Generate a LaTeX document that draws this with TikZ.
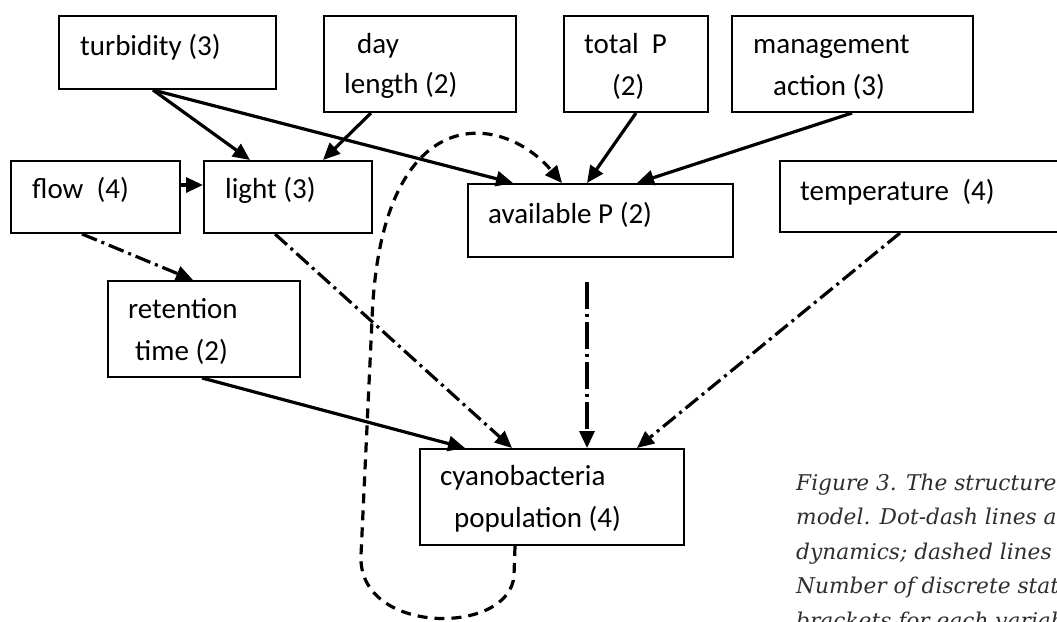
\documentclass[tikz,border=0pt]{standalone}
\usepackage{fontspec}
\setmainfont{Carlito}
\newfontfamily\capfont{DejaVu Serif}
\usetikzlibrary{arrows.meta}
\begin{document}
\begin{tikzpicture}[x=1pt,y=-1pt,
  box/.style={draw, line width=2pt, rectangle, inner sep=0pt, anchor=north west},
  lbl/.style={anchor=base west, inner sep=0pt, font=\fontsize{29}{35}\selectfont},
  captxt/.style={anchor=base west, inner sep=0pt, text=black!82, font=\capfont\itshape\fontsize{21.7}{34}\selectfont},
  arr/.style={line width=3.2pt, -{Triangle[length=17pt,width=15pt]}},
  dd/.style={arr, dash pattern=on 16pt off 5pt on 3pt off 5pt},
  ddl/.style={arr, dash pattern=on 27pt off 5pt on 3pt off 5pt},
  dsh/.style={arr, dash pattern=on 10pt off 7pt}]
\useasboundingbox (0,0) rectangle (1057,621);
\clip (0,0) rectangle (1057,621);
% boxes
\node[box, minimum width=217pt, minimum height=73pt] (tb) at (58,15) {};
\node[box, minimum width=192pt, minimum height=96pt] (dl) at (323,15) {};
\node[box, minimum width=144pt, minimum height=96pt] (tp) at (563,15) {};
\node[box, minimum width=241pt, minimum height=96pt] (ma) at (731,15) {};
\node[box, minimum width=169pt, minimum height=72pt] (fl) at (10,160) {};
\node[box, minimum width=168pt, minimum height=72pt] (li) at (203,160) {};
\node[box, minimum width=265pt, minimum height=73pt] (ap) at (467,183) {};
\node[box, minimum width=296pt, minimum height=71pt] (te) at (779,160) {};
\node[box, minimum width=192pt, minimum height=96pt] (rt) at (107,280) {};
\node[box, minimum width=264pt, minimum height=96pt] (cy) at (419,448) {};
% labels
\node[lbl] (tbt) at (80,55) {turbidity (3)};
\node[lbl] (dlt1) at (357,53) {day};
\node[lbl] (dlt2) at (344,93) {length (2)};
\node[lbl] (tpt1) at (584,53) {total\ \ P};
\node[lbl] (tpt2) at (612,95) {(2)};
\node[lbl] (mat1) at (753,53) {management};
\node[lbl] (mat2) at (773,95) {action (3)};
\node[lbl] (flt) at (32,198) {flow\ \ (4)};
\node[lbl] (lit) at (225,198) {light (3)};
\node[lbl] (apt) at (488,223) {available P (2)};
\node[lbl] (tet) at (800,200) {temperature\ \ (4)};
\node[lbl] (rtt1) at (128,318) {retention};
\node[lbl] (rtt2) at (135,360) {time (2)};
\node[lbl] (cyt1) at (440,485) {cyanobacteria};
\node[lbl] (cyt2) at (454,527) {population (4)};
% solid arrows
\draw[arr] ([xshift=95pt]tb.south west) -- ([xshift=47pt]li.north west);
\draw[arr] ([xshift=95pt]tb.south west) -- ([xshift=46pt]ap.north west);
\draw[arr] ([xshift=48pt]dl.south west) -- ([xshift=120pt]li.north west);
\draw[arr] ([xshift=73pt]tp.south west) -- ([xshift=120pt]ap.north west);
\draw[arr] ([xshift=121pt]ma.south west) -- ([xshift=170pt]ap.north west);
\draw[arr] ([yshift=12pt]fl.east) -- ([yshift=12pt]li.west);
\draw[arr] ([xshift=95pt]rt.south west) -- ([xshift=46pt]cy.north west);
% dot-dash arrows
\draw[dd] ([xshift=72pt]fl.south west) -- ([xshift=86pt]rt.north west);
\draw[dd] ([xshift=72pt]li.south west) -- ([xshift=93pt]cy.north west);
\draw[ddl] ([xshift=120pt,yshift=-24pt]ap.south west) -- ([xshift=168pt]cy.north west);
\draw[dd] ([xshift=121pt]te.south west) -- ([xshift=218pt]cy.north west);
% dashed feedback loop
\draw[dsh] ([xshift=96pt]cy.south west) -- (514,575)
  .. controls (511,636) and (357,636) .. (361,555)
  -- (372,320)
  .. controls (380,100) and (500,110) .. ([xshift=95pt]ap.north west);
% caption
\node[captxt] (c1) at (796,490) {Figure 3. The structure};
\node[captxt] (c2) at (796,524.5) {model. Dot-dash lines a};
\node[captxt] (c3) at (796,559) {dynamics; dashed lines};
\node[captxt] (c4) at (796,593.5) {Number of discrete stat};
\node[captxt] (c5) at (796,628) {brackets for each variab};
\end{tikzpicture}
\end{document}
